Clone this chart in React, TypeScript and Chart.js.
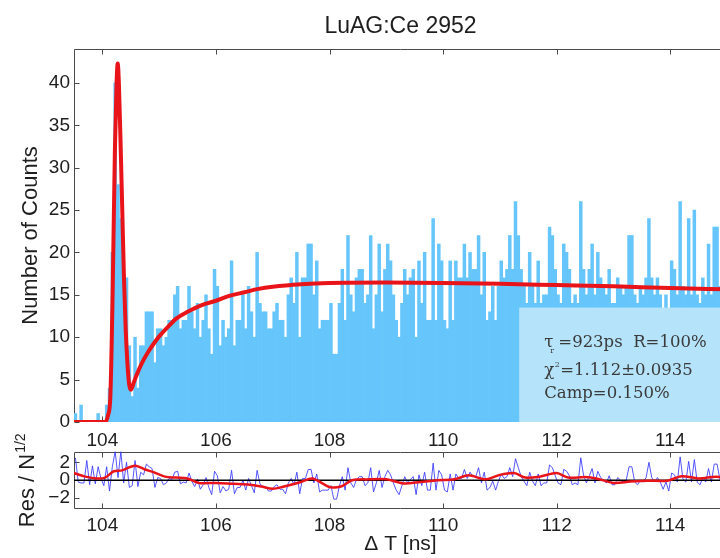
import React, { useEffect, useRef } from "react";
import { Chart, registerables } from "chart.js";

Chart.register(...registerables);

// ---------- data ----------
const TITLE = "LuAG:Ce 2952";
const Y_LABEL = "Number of Counts";
const RES_LABEL = "Res / N";
const RES_LABEL_SUP = "1/2";
const X_LABEL = "\u0394 T [ns]";
const BOX_LINES = ["=923ps  R=100%", "=1.112\u00b10.0935", "Camp=0.150%"];

const X_MIN = 103.5;
const X_MAX = 115.0;
const Y_MAX = 44;
const RES_MIN = -3.2;
const RES_MAX = 3.2;
const BIN_START = 103.5;
const BIN_WIDTH = 0.05;
const BOX_X0 = 111.34;
const BOX_Y0 = 13.5;

const xTicks = [104, 106, 108, 110, 112, 114];
const yTicksMain = [0, 5, 10, 15, 20, 25, 30, 35, 40];
const yTicksRes = [-2, 0, 2];

const counts = [
  1, 0, 2, 0, 0, 0, 0, 0, 1, 0,
  0, 2, 4, 20, 40, 28, 24, 17, 17, 9,
  3, 10, 4, 9, 9, 13, 13, 13, 7, 11,
  11, 9, 10, 12, 12, 15, 16, 11, 12, 12,
  16, 13, 11, 14, 10, 12, 15, 11, 8, 18,
  16, 9, 12, 10, 11, 19, 9, 12, 12, 15,
  11, 16, 13, 10, 20, 14, 13, 13, 11, 11,
  13, 14, 12, 12, 10, 15, 17, 14, 20, 10,
  17, 17, 21, 21, 15, 19, 11, 12, 12, 12,
  14, 8, 8, 14, 18, 12, 22, 15, 13, 17,
  18, 18, 14, 15, 22, 11, 15, 21, 13, 18,
  21, 19, 15, 12, 10, 14, 18, 15, 17, 18,
  10, 19, 14, 20, 12, 12, 24, 12, 21, 19,
  12, 11, 19, 12, 19, 17, 17, 21, 17, 20,
  18, 18, 22, 15, 20, 12, 13, 16, 12, 16,
  19, 17, 18, 22, 18, 26, 22, 18, 16, 14,
  20, 16, 14, 19, 14, 15, 15, 23, 22, 18,
  15, 14, 21, 20, 18, 14, 15, 14, 26, 18,
  15, 18, 21, 15, 20, 17, 16, 15, 18, 14,
  14, 17, 16, 15, 16, 22, 22, 15, 14, 16,
  15, 17, 24, 17, 15, 17, 15, 12, 15, 11,
  19, 18, 15, 26, 16, 15, 24, 15, 25, 15,
  14, 17, 15, 21, 15, 23, 23, 16, 14, 17,
];

const fitX = [
  103.5, 104.05, 104.1, 104.14, 104.18, 104.22, 104.25, 104.27, 104.29, 104.32,
  104.35, 104.38, 104.41, 104.44, 104.47, 104.5, 104.55, 104.6, 104.7, 104.8,
  104.9, 105.0, 105.15, 105.3, 105.5, 105.75, 106.0, 106.25, 106.5, 106.75,
  107.0, 107.5, 108, 109, 110, 111, 112, 113, 114, 115,
];
const fitY = [
  0, 0, 0.8, 3, 15, 32, 40, 42.3, 40, 33,
  25, 17, 11, 7, 4.5, 3.8, 4.6, 5.5, 7.0, 8.2,
  9.2, 10.1, 11.2, 12.2, 13.0, 13.8, 14.3, 14.9, 15.3, 15.7,
  15.95, 16.25, 16.4, 16.45, 16.4, 16.3, 16.15, 16.0, 15.8, 15.65,
];

const residuals = [
  2.5, -0.2, -0.3, -0.3, 2.2, -0.5, 1.6, -0.4, 1.5, 0.2,
  -0.6, 1.5, -1.2, 1.5, 3.2, 0.3, 3.2, -0.3, 2.0, -0.8,
  -0.6, 2.2, -0.7, 0.9, 0.6, 1.8, 1.5, 1.3, -0.8, 0.3,
  0.2, -0.5, -0.3, 0.2, 0.1, 0.9, 1.0, -0.4, -0.2, -0.3,
  0.8, -0.1, -0.7, 0.1, -1.0, -0.5, 0.3, -0.8, -1.6, 1.0,
  0.5, -1.4, -0.7, -1.2, -1.0, 1.1, -1.5, -0.8, -0.8, 0.0,
  -1.1, 0.2, -0.6, -1.4, 1.1, -0.4, -0.7, -0.7, -1.2, -1.2,
  -0.7, -0.5, -1.0, -1.0, -1.5, -0.3, 0.2, -0.5, 0.9, -1.5,
  0.2, 0.2, 1.2, 1.2, -0.3, 0.7, -1.3, -1.1, -1.1, -1.1,
  -0.6, -2.1, -2.1, -0.6, 0.4, -1.1, 1.4, -0.3, -0.8, 0.1,
  0.4, 0.4, -0.6, -0.3, 1.4, -1.3, -0.3, 1.1, -0.8, 0.4,
  1.1, 0.6, -0.3, -1.1, -1.6, -0.6, 0.4, -0.3, 0.1, 0.4,
  -1.6, 0.6, -0.6, 0.9, -1.1, -1.1, 1.9, -1.1, 1.1, 0.6,
  -1.1, -1.3, 0.7, -1.1, 0.7, 0.2, 0.2, 1.2, 0.2, 0.9,
  0.4, 0.4, 1.4, -0.3, 0.9, -1.1, -0.8, -0.1, -1.1, -0.1,
  0.7, 0.2, 0.4, 1.4, 0.4, 2.4, 1.4, 0.4, -0.1, -0.6,
  0.9, -0.1, -0.6, 0.7, -0.6, -0.3, -0.3, 1.7, 1.4, 0.5,
  -0.3, -0.5, 1.2, 1.0, 0.5, -0.5, -0.3, -0.5, 2.5, 0.5,
  -0.3, 0.5, 1.3, -0.3, 1.0, 0.3, 0.0, -0.3, 0.5, -0.5,
  -0.5, 0.3, 0.0, -0.2, 0.0, 1.5, 1.5, -0.2, -0.5, 0.0,
  -0.2, 0.3, 2.0, 0.3, -0.2, 0.3, -0.2, -1.0, -0.2, -1.2,
  0.8, 0.6, -0.2, 2.6, 0.1, -0.2, 2.1, -0.2, 2.3, -0.2,
  -0.5, 0.3, -0.2, 1.3, -0.2, 1.8, 1.8, 0.1, -0.4, 0.3,
];

const resSmoothX = [
  103.5, 103.7, 103.9, 104.05, 104.2, 104.35, 104.5, 104.6, 104.75, 104.9,
  105.1, 105.3, 105.5, 105.7, 106.0, 106.3, 106.6, 106.8, 107.0, 107.2,
  107.5, 107.7, 108.0, 108.2, 108.4, 108.7, 109.0, 109.3, 109.6, 109.9,
  110.2, 110.45, 110.75, 111.0, 111.25, 111.45, 111.7, 112.0, 112.2, 112.5,
  112.7, 113.0, 113.3, 113.6, 113.95, 114.2, 114.5, 114.8, 115.0,
];
const resSmoothY = [
  0.8, 0.4, 0.2, 0.3, 1.0, 1.1, 1.5, 1.6, 1.2, 0.9,
  0.4, 0.3, 0.2, -0.3, -0.3, -0.4, -0.5, -0.7, -0.95, -0.7,
  -0.2, 0.2, -0.75, -0.7, 0.0, 0.1, 0.1, -0.35, -0.2, 0.0,
  0.1, 0.55, 0.1, 0.6, 0.8, 0.3, 0.4, 0.8, 0.3, 0.35,
  0.2, -0.3, -0.15, -0.05, -0.05, 0.45, 0.2, 0.4, 0.3,
];

// ---------- styles ----------
const SANS = "'Liberation Sans', Arial, Helvetica, sans-serif";
const SERIF = "'DejaVu Serif', serif";
const BAR = "#66c6fb";
const RED = "#e8141a";
const BOX = "#b4e3fa";
const TEXT = "#1e1e1e";
const FRAME = "#4a4a4a";

const RES_TOP = 400; // page offset of the residual canvas

const binCenters = counts.map((_, i) => BIN_START + BIN_WIDTH * (i + 0.5));

const minusFmt = (v: any) => String(v).replace("-", "\u2212");

const framePlugin = {
  id: "frameTicks",
  beforeDatasetsDraw(chart: any) {
    const { ctx, chartArea, scales } = chart;
    const { left, right, top, bottom } = chartArea;
    ctx.save();
    ctx.strokeStyle = FRAME;
    ctx.lineWidth = 1;
    const L = Math.round(left) + 0.5;
    const R = Math.round(right) - 0.5;
    const T = Math.round(top) + 0.5;
    const B = Math.round(bottom) - 0.5;
    ctx.beginPath();
    ctx.moveTo(L, B);
    ctx.lineTo(L, T);
    ctx.lineTo(R, T);
    ctx.lineTo(R, B);
    ctx.lineTo(L, B);
    ctx.stroke();
    const tl = 5;
    ctx.beginPath();
    for (const t of scales.x.ticks) {
      const px = Math.round(scales.x.getPixelForValue(t.value)) + 0.5;
      ctx.moveTo(px, T);
      ctx.lineTo(px, T + tl);
      ctx.moveTo(px, B);
      ctx.lineTo(px, B - tl);
    }
    for (const t of scales.y.ticks) {
      const py = Math.round(scales.y.getPixelForValue(t.value)) + 0.5;
      ctx.moveTo(L, py);
      ctx.lineTo(L + tl, py);
      ctx.moveTo(R, py);
      ctx.lineTo(R - tl, py);
    }
    ctx.stroke();
    ctx.restore();
  },
};

const mainDecor = {
  id: "mainDecor",
  afterDraw(chart: any) {
    const { ctx, chartArea, scales } = chart;
    const { left, right, top, bottom } = chartArea;
    ctx.save();
    ctx.fillStyle = TEXT;
    ctx.font = `23px ${SANS}`;
    ctx.textAlign = "center";
    ctx.textBaseline = "alphabetic";
    ctx.fillText(TITLE, (left + right) / 2, 33);
    ctx.save();
    ctx.translate(37, (top + bottom) / 2);
    ctx.rotate(-Math.PI / 2);
    ctx.font = `22px ${SANS}`;
    ctx.fillText(Y_LABEL, 0, 0);
    ctx.restore();
    // info box
    const bx = scales.x.getPixelForValue(BOX_X0);
    const by = scales.y.getPixelForValue(BOX_Y0);
    ctx.fillStyle = BOX;
    ctx.fillRect(bx, by, right - bx, bottom - by);
    ctx.fillStyle = "#3a3a3a";
    ctx.textAlign = "left";
    const tx = bx + 25;
    const f = 16.5;
    ctx.font = `${f}px ${SERIF}`;
    const y1 = by + 39.5;
    ctx.fillText("\u03c4", tx, y1);
    let w = ctx.measureText("\u03c4").width;
    ctx.font = `8px ${SERIF}`;
    ctx.fillText("r", tx + w - 3, y1 + 6);
    ctx.font = `${f}px ${SERIF}`;
    ctx.fillText(BOX_LINES[0], tx + w + 5, y1);
    const y2 = by + 67;
    ctx.fillText("\u03c7", tx, y2);
    w = ctx.measureText("\u03c7").width;
    ctx.font = `8px ${SERIF}`;
    ctx.fillText("2", tx + w + 0.5, y2 - 8);
    ctx.font = `${f}px ${SERIF}`;
    ctx.fillText(BOX_LINES[1], tx + w + 6, y2);
    ctx.fillText(BOX_LINES[2], tx, by + 90.5);
    ctx.restore();
  },
};

const resDecor = {
  id: "resDecor",
  afterDraw(chart: any) {
    const { ctx, chartArea } = chart;
    const { left, right, top, bottom } = chartArea;
    ctx.save();
    ctx.fillStyle = TEXT;
    ctx.textBaseline = "alphabetic";
    ctx.font = `21px ${SANS}`;
    ctx.textAlign = "center";
    ctx.fillText(X_LABEL, (left + right) / 2, 550 - RES_TOP);
    ctx.font = `22px ${SANS}`;
    const w1 = ctx.measureText(RES_LABEL).width;
    ctx.font = `14px ${SANS}`;
    const w2 = ctx.measureText(RES_LABEL_SUP).width;
    const total = w1 + 1 + w2;
    ctx.translate(33.5, (top + bottom) / 2);
    ctx.rotate(-Math.PI / 2);
    ctx.textAlign = "left";
    ctx.font = `22px ${SANS}`;
    ctx.fillText(RES_LABEL, -total / 2, 0);
    ctx.font = `14px ${SANS}`;
    ctx.fillText(RES_LABEL_SUP, -total / 2 + w1 + 1, -9);
    ctx.restore();
  },
};

function tickFont() {
  return { family: SANS, size: 19 };
}

function mainConfig(): any {
  return {
    type: "bar",
    data: {
      datasets: [
        {
          type: "line",
          data: fitX.map((x, i) => ({ x, y: fitY[i] })),
          borderColor: RED,
          borderWidth: 4,
          pointRadius: 0,
          cubicInterpolationMode: "monotone",
          order: 0,
        },
        {
          type: "bar",
          data: binCenters.map((x, i) => ({ x, y: counts[i] })),
          backgroundColor: BAR,
          borderWidth: 0,
          barPercentage: 1,
          categoryPercentage: 1,
          grouped: false,
          order: 1,
        },
      ],
    },
    options: {
      responsive: false,
      animation: false,
      devicePixelRatio: 1,
      layout: { padding: { top: 49, right: 13, left: 0, bottom: 0 } },
      plugins: { legend: { display: false }, tooltip: { enabled: false }, title: { display: false } },
      scales: {
        x: {
          type: "linear",
          min: X_MIN,
          max: X_MAX,
          offset: false,
          grid: { display: false, drawTicks: false },
          border: { display: false },
          afterBuildTicks: (s: any) => {
            s.ticks = xTicks.map((v) => ({ value: v }));
          },
          afterFit: (s: any) => {
            s.height = 30;
          },
          ticks: { padding: 7, color: TEXT, font: tickFont(), maxRotation: 0, autoSkip: false },
        },
        y: {
          type: "linear",
          min: 0,
          max: Y_MAX,
          grid: { display: false, drawTicks: false },
          border: { display: false },
          afterBuildTicks: (s: any) => {
            s.ticks = yTicksMain.map((v) => ({ value: v }));
          },
          afterFit: (s: any) => {
            s.width = 74;
          },
          ticks: { padding: 4, color: TEXT, font: tickFont(), autoSkip: false },
        },
      },
    },
    plugins: [framePlugin, mainDecor],
  };
}

function resConfig(): any {
  return {
    type: "line",
    data: {
      datasets: [
        {
          data: residuals.map((y, i) => ({ x: binCenters[i], y })),
          borderColor: "rgba(55,55,255,0.85)",
          borderWidth: 1,
          pointRadius: 0,
          order: 3,
        },
        {
          data: [
            { x: X_MIN, y: 0 },
            { x: X_MAX, y: 0 },
          ],
          borderColor: "#000000",
          borderWidth: 1.5,
          pointRadius: 0,
          order: 2,
        },
        {
          data: resSmoothX.map((x, i) => ({ x, y: resSmoothY[i] })),
          borderColor: RED,
          borderWidth: 2.5,
          pointRadius: 0,
          tension: 0.3,
          order: 1,
        },
      ],
    },
    options: {
      responsive: false,
      animation: false,
      devicePixelRatio: 1,
      layout: { padding: { top: 451.5 - RES_TOP, right: 13, left: 0, bottom: 0 } },
      plugins: { legend: { display: false }, tooltip: { enabled: false }, title: { display: false } },
      scales: {
        x: {
          type: "linear",
          min: X_MIN,
          max: X_MAX,
          offset: false,
          grid: { display: false, drawTicks: false },
          border: { display: false },
          afterBuildTicks: (s: any) => {
            s.ticks = xTicks.map((v) => ({ value: v }));
          },
          afterFit: (s: any) => {
            s.height = 49;
          },
          ticks: { padding: 5, color: TEXT, font: tickFont(), maxRotation: 0, autoSkip: false },
        },
        y: {
          type: "linear",
          min: RES_MIN,
          max: RES_MAX,
          grid: { display: false, drawTicks: false },
          border: { display: false },
          afterBuildTicks: (s: any) => {
            s.ticks = yTicksRes.map((v) => ({ value: v }));
          },
          afterFit: (s: any) => {
            s.width = 74;
          },
          ticks: { padding: 4, color: TEXT, font: tickFont(), autoSkip: false, callback: minusFmt },
        },
      },
    },
    plugins: [framePlugin, resDecor],
  };
}

export default function App() {
  const mainRef = useRef<HTMLCanvasElement>(null);
  const resRef = useRef<HTMLCanvasElement>(null);
  useEffect(() => {
    const c1 = new Chart(mainRef.current as HTMLCanvasElement, mainConfig());
    const c2 = new Chart(resRef.current as HTMLCanvasElement, resConfig());
    return () => {
      c1.destroy();
      c2.destroy();
    };
  }, []);
  return (
    <div
      style={{
        position: "fixed",
        left: 0,
        top: 0,
        width: 720,
        height: 558,
        overflow: "hidden",
        background: "#ffffff",
      }}
    >
      <canvas ref={mainRef} width={740} height={452} style={{ position: "absolute", left: 0, top: 0 }} />
      <canvas
        ref={resRef}
        width={740}
        height={558 - RES_TOP}
        style={{ position: "absolute", left: 0, top: RES_TOP }}
      />
    </div>
  );
}
